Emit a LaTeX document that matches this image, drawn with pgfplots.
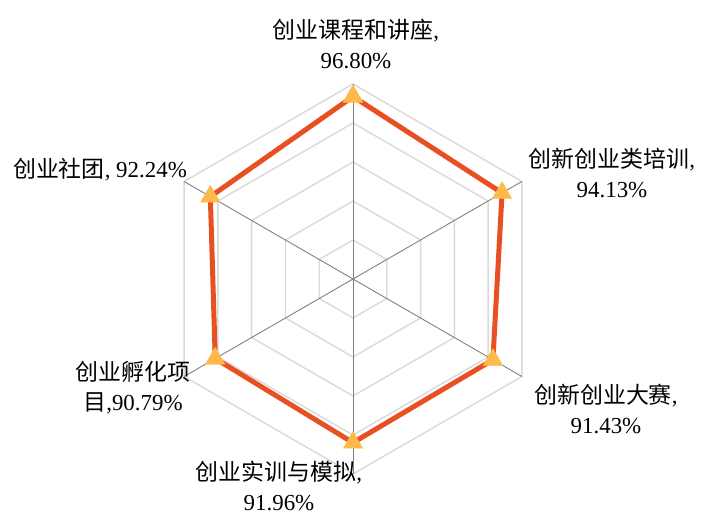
\documentclass[border=0pt]{standalone}
\usepackage{pgfplots}
\pgfplotsset{compat=1.18}
\usepgfplotslibrary{polar}
\usepackage{fontspec}
\setmainfont{Liberation Serif}
\newfontfamily\cjk{Noto Sans CJK SC}
\definecolor{gridc}{RGB}{217,217,217}
\definecolor{spokec}{RGB}{128,128,128}
\definecolor{linec}{RGB}{232,80,35}
\definecolor{markc}{RGB}{255,185,75}
\begin{document}
\begin{tikzpicture}[x=1bp,y=1bp]
\path[use as bounding box] (0,0) rectangle (702,-517);
\begin{polaraxis}[
  at={(353bp,-279bp)}, anchor=center,
  scale only axis, width=390bp, height=390bp,
  xmin=0, xmax=360, ymin=0, ymax=50,
  axis line style={draw=none},
  xtick=\empty, ytick=\empty,
  clip=false,
  y filter/.expression={y-50},
]
% hexagonal grid rings
\addplot[gridc, line width=1.4bp, mark=none] coordinates {(90,60)(30,60)(330,60)(270,60)(210,60)(150,60)(90,60)};
\addplot[gridc, line width=1.4bp, mark=none] coordinates {(90,70)(30,70)(330,70)(270,70)(210,70)(150,70)(90,70)};
\addplot[gridc, line width=1.4bp, mark=none] coordinates {(90,80)(30,80)(330,80)(270,80)(210,80)(150,80)(90,80)};
\addplot[gridc, line width=1.4bp, mark=none] coordinates {(90,90)(30,90)(330,90)(270,90)(210,90)(150,90)(90,90)};
\addplot[gridc, line width=1.4bp, mark=none] coordinates {(90,100)(30,100)(330,100)(270,100)(210,100)(150,100)(90,100)};
% spokes
\addplot[spokec, line width=0.9bp, mark=none] coordinates {(90,100)(270,100)};
\addplot[spokec, line width=0.9bp, mark=none] coordinates {(30,100)(210,100)};
\addplot[spokec, line width=0.9bp, mark=none] coordinates {(150,100)(330,100)};
% series
\addplot[linec, line width=5bp, line join=round, mark=triangle*, mark size=11.5bp,
  mark options={fill=markc, draw=markc, line width=0.1bp}]
  coordinates {(90,96.80)(30,94.13)(330,91.43)(270,91.96)(210,90.79)(150,92.24)(90,96.80)};
\end{polaraxis}
\begin{scope}[every node/.style={align=center, inner sep=0pt, font=\fontsize{23}{30}\selectfont}]
\node at (356,-44) {{\cjk 创业课程和讲座},\\96.80\%};
\node at (612,-173) {{\cjk 创新创业类培训},\\94.13\%};
\node at (606,-409) {{\cjk 创新创业大赛},\\91.43\%};
\node at (279,-486) {{\cjk 创业实训与模拟},\\91.96\%};
\node at (133,-388) {{\cjk 创业孵化项}\\{\cjk 目},90.79\%};
\node at (100,-170) {{\cjk 创业社团}, 92.24\%};
\end{scope}
\end{tikzpicture}
\end{document}
